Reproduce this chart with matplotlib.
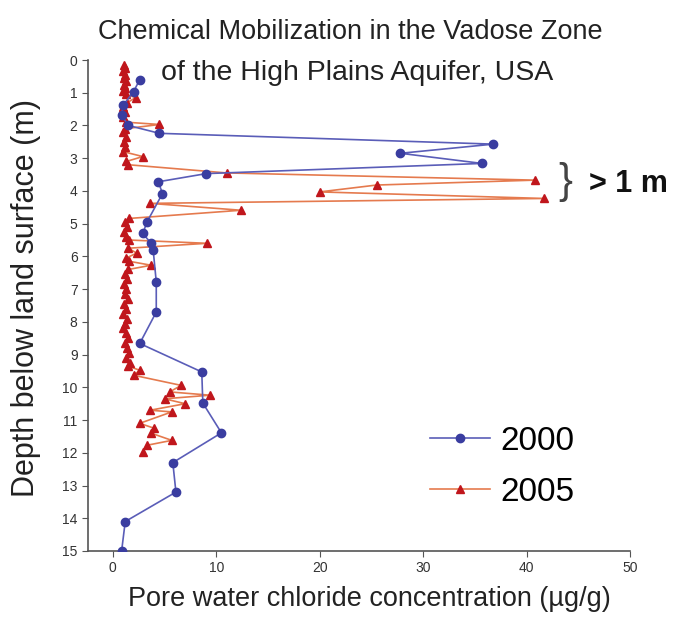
import matplotlib
matplotlib.use('Agg')
import matplotlib.pyplot as plt

plt.rcParams['font.family'] = ['Liberation Sans', 'DejaVu Sans']

# 2000 profile: depth (m) and chloride (ug/g)
depth_2000 = [0.6, 0.97, 1.38, 1.68, 2.0, 2.24, 2.57, 2.85, 3.16, 3.47, 3.72, 4.08,
              4.95, 5.3, 5.6, 5.8, 6.78, 7.7, 8.66, 9.53, 10.48, 11.39, 12.3, 13.2,
              14.1, 15.0]
cl_2000 = [2.6, 2.0, 1.0, 0.85, 1.5, 4.5, 36.8, 27.8, 35.7, 9.05, 4.4, 4.8,
           3.3, 2.9, 3.7, 3.9, 4.2, 4.2, 2.6, 8.6, 8.7, 10.5, 5.8, 6.1,
           1.2, 0.85]

# 2005 profile
depth_2005 = [0.15, 0.25, 0.35, 0.45, 0.55, 0.65, 0.75, 0.85, 0.95, 1.05, 1.15, 1.3,
              1.45, 1.6, 1.75, 1.9, 1.97, 2.1, 2.2, 2.35, 2.5, 2.65, 2.8, 2.95,
              3.1, 3.2, 3.45, 3.67, 3.82, 4.03, 4.23, 4.38, 4.59, 4.84, 4.95, 5.1,
              5.25, 5.4, 5.5, 5.6, 5.75, 5.9, 6.05, 6.15, 6.27, 6.4, 6.55, 6.7,
              6.85, 7.0, 7.15, 7.3, 7.45, 7.6, 7.75, 7.9, 8.05, 8.2, 8.35, 8.5,
              8.65, 8.8, 8.95, 9.1, 9.25, 9.35, 9.48, 9.63, 9.94, 10.14, 10.24, 10.35,
              10.5, 10.7, 10.75, 11.1, 11.25, 11.4, 11.62, 11.77, 11.98]
cl_2005 = [1.1, 1.2, 1.0, 1.2, 1.1, 1.3, 1.1, 1.2, 1.0, 1.3, 2.2, 1.4,
           1.0, 1.2, 1.0, 1.3, 4.5, 1.2, 1.0, 1.3, 1.1, 1.2, 1.0, 2.9,
           1.3, 1.5, 11.0, 40.8, 25.5, 20.0, 41.7, 3.6, 12.4, 1.6, 1.2, 1.4,
           1.1, 1.3, 1.6, 9.1, 1.5, 2.3, 1.3, 1.6, 3.7, 1.5, 1.2, 1.4,
           1.1, 1.3, 1.2, 1.5, 1.1, 1.3, 1.0, 1.4, 1.2, 1.0, 1.3, 1.5,
           1.2, 1.4, 1.6, 1.3, 1.7, 1.5, 2.6, 2.0, 6.6, 5.5, 9.4, 5.0,
           7.0, 3.6, 5.7, 2.6, 4.0, 3.7, 5.7, 3.3, 2.9]

fig = plt.figure(figsize=(6.73, 6.19), dpi=100)
ax = fig.add_axes([88/673, 1-551/619, (630-88)/673, (551-60)/619])

ax.plot(cl_2000, depth_2000, color='#5a5db8', lw=1.2, marker='o', ms=6,
        mfc='#3a3da0', mec='#3a3da0', label='2000', zorder=3)
ax.plot(cl_2005, depth_2005, color='#e57a4e', lw=1.2, marker='^', ms=5.5,
        mfc='#c0161c', mec='#c0161c', label='2005', zorder=2)

ax.set_xlim(-2.4, 50)
ax.set_ylim(15, 0)
ax.set_xticks(range(0, 51, 10))
ax.set_yticks(range(0, 16))
for s in ['top', 'right']:
    ax.spines[s].set_visible(False)
for s in ['left', 'bottom']:
    ax.spines[s].set_color('#555555')
    ax.spines[s].set_linewidth(1.2)
ax.tick_params(labelsize=10, colors='#555555', labelcolor='#333333', length=4)

ax.set_xlabel('Pore water chloride concentration (\u00b5g/g)', fontsize=19.5,
              color='#222222')
ax.xaxis.set_label_coords(0.52, -0.072)
ax.set_ylabel('Depth below land surface (m)', fontsize=22, color='#222222')
ax.yaxis.set_label_coords(-0.087, 0.515)

fig.text(0.52, 1-32/619, 'Chemical Mobilization in the Vadose Zone', ha='center',
         va='center', fontsize=19.5, color='#222222')
fig.text(0.53, 1-73/619, 'of the High Plains Aquifer, USA', ha='center',
         va='center', fontsize=20.5, color='#222222')

fig.text(558/673, 1-182/619, '}', fontsize=30, color='#444444', va='center',
         ha='left', fontweight='light')
fig.text(589/673, 1-184/619, '> 1 m', fontsize=22, fontweight='bold', color='#111111',
         va='center', ha='left')

fig.legend(loc='center left', bbox_to_anchor=(430/673, 1-467/619), frameon=False,
           fontsize=24, handlelength=1.8, handletextpad=0.3, labelspacing=0.6,
           borderpad=0, borderaxespad=0)

fig.savefig('out.png', dpi=100)
